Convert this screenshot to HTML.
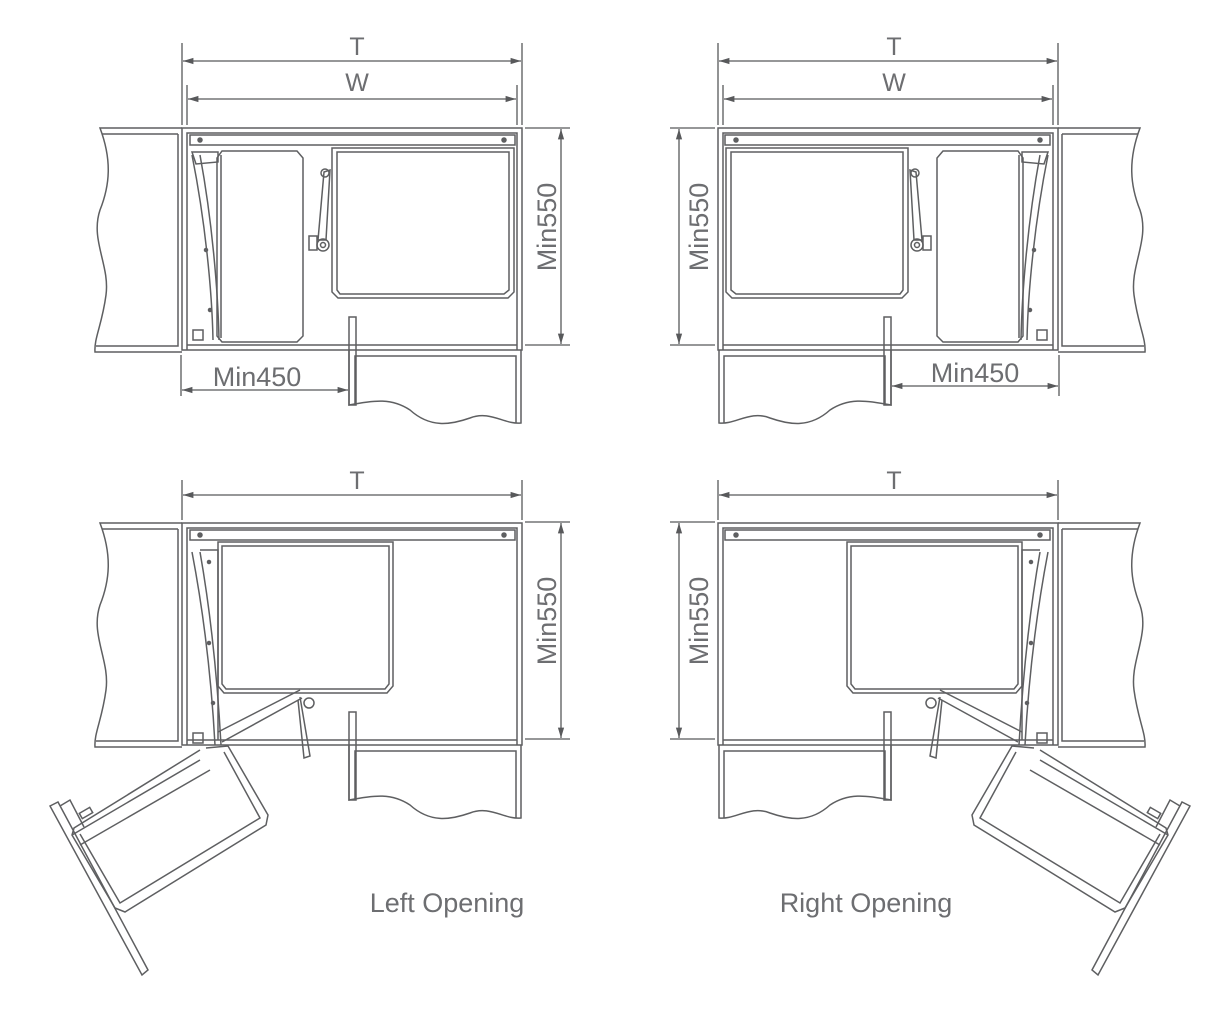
<!DOCTYPE html>
<html><head><meta charset="utf-8"><style>
html,body{margin:0;padding:0;background:#fff;width:1230px;height:1024px;overflow:hidden}
svg{display:block}
text{font-family:"Liberation Sans",sans-serif;fill:#6d6e71}
</style></head><body>
<svg width="1230" height="1024" viewBox="0 0 1230 1024" xmlns="http://www.w3.org/2000/svg">
<defs>
<marker id="ar" viewBox="0 0 10 10" refX="10" refY="5" markerWidth="8" markerHeight="8" orient="auto-start-reverse"><path d="M0,2 L10,5 L0,8z" fill="#58595b"/></marker>
<g id="cab" fill="none" stroke="#5e5f61" stroke-width="1.5">
  <path d="M182,128 L100,128 C112,160 110,185 100,210 C90,240 110,265 106,295 C102,325 94,338 95,352 L182,352"/>
  <path d="M178,134 L178,346 L96,346"/>
  <path d="M102,134 L178,134"/>
  <rect x="182" y="128" width="340" height="222"/>
  <path d="M187,350 L187,133 L517,133 L517,350"/>
  <line x1="187" y1="345" x2="517" y2="345"/>
  <rect x="190" y="135" width="325" height="10"/>
  <circle cx="200" cy="140" r="2" fill="#5e5f61"/><circle cx="504" cy="140" r="2" fill="#5e5f61"/>
  <rect x="349" y="317" width="7" height="88"/>
  <path d="M349,350 L349,405 C375,400 392,398 410,410 C430,428 450,425 470,418 C490,410 505,425 521,423 L521,350"/>
  <path d="M355,405 L355,356 L516,356 L516,423"/>
</g>
<g id="topin" fill="none" stroke="#5e5f61" stroke-width="1.5">
  <path d="M222,151 L297,151 L303,158 L303,336 L297,342 L222,342 L217,336 L217,158 Z"/>
  <path d="M221,155 L221,338"/>
  <path d="M192,155 C205,220 212,290 213,340"/>
  <path d="M200,155 C212,220 218,290 219,340"/>
  <path d="M192,152 L218,152 L218,162 L196,164 Z"/>
  <rect x="193" y="330" width="10" height="10"/>
  <circle cx="206" cy="250" r="1.5" fill="#5e5f61"/><circle cx="210" cy="310" r="1.5" fill="#5e5f61"/>
  <path d="M332,148 L514,148 L514,292 L508,298 L338,298 L332,292 Z"/>
  <path d="M337,152 L509,152 L509,290 L504,294 L340,294 L337,290 Z"/>
  <path d="M324,172 L330,170 L326,240 L318,240 Z"/>
  <circle cx="325" cy="173" r="4"/>
  <circle cx="323" cy="245" r="6"/><circle cx="323" cy="245" r="2.5"/>
  <rect x="309" y="236" width="8" height="14"/>
</g>
<g id="botin" fill="none" stroke="#5e5f61" stroke-width="1.5">
  <path d="M218,542 L393,542 L393,686 L387,693 L224,693 L218,686 Z"/>
  <path d="M222,546 L389,546 L389,684 L385,689 L226,689 L222,684 Z"/>
  <path d="M192,552 C205,620 212,690 215,745"/>
  <path d="M200,552 C212,620 218,690 221,745"/>
  <path d="M200,550 L218,550 L218,740"/>
  <rect x="193" y="733" width="10" height="10"/>
  <circle cx="209" cy="562" r="1.5" fill="#5e5f61"/><circle cx="209" cy="643" r="1.5" fill="#5e5f61"/><circle cx="213" cy="703" r="1.5" fill="#5e5f61"/>
  <path d="M218,732 L300,690"/><path d="M222,742 L302,698"/>
  <path d="M300,697 L310,756 L304,758 L298,700"/>
  <circle cx="309" cy="703" r="5"/>
  <path d="M206,748 L228,746 L268,815 L266,825 L125,912 L115,908 L72,835 L74,828 L200,750"/>
  <path d="M80,834 L120,903 L260,818 L224,752"/>
  <path d="M72,835 L200,760"/><path d="M80,845 L210,770"/>
  <path d="M50,806 L58,802 L148,970 L142,975 Z"/>
  <path d="M60,806 L70,800 L84,827"/>
  <rect x="80" y="810" width="12" height="6" transform="rotate(-30 86 813)"/>
</g>
</defs>

<use href="#cab"/><use href="#topin"/>
<g transform="translate(1240,0) scale(-1,1)"><use href="#cab"/><use href="#topin"/></g>
<g transform="translate(0,395)"><use href="#cab"/></g><use href="#botin"/>
<g transform="translate(1240,0) scale(-1,1)"><g transform="translate(0,395)"><use href="#cab"/></g><use href="#botin"/></g>

<g stroke="#58595b" stroke-width="1.3" fill="none">
  <line x1="182" y1="43" x2="182" y2="125"/><line x1="522" y1="43" x2="522" y2="125"/>
  <line x1="187" y1="85" x2="187" y2="125"/><line x1="517" y1="85" x2="517" y2="125"/>
  <line x1="183" y1="61" x2="521" y2="61" marker-start="url(#ar)" marker-end="url(#ar)"/>
  <line x1="188" y1="99" x2="516" y2="99" marker-start="url(#ar)" marker-end="url(#ar)"/>
  <line x1="525" y1="128" x2="570" y2="128"/><line x1="525" y1="345" x2="570" y2="345"/>
  <line x1="561" y1="129" x2="561" y2="344" marker-start="url(#ar)" marker-end="url(#ar)"/>
  <line x1="181" y1="355" x2="181" y2="396"/>
  <line x1="182" y1="390" x2="348" y2="390" marker-start="url(#ar)" marker-end="url(#ar)"/>
  <line x1="1058" y1="43" x2="1058" y2="125"/><line x1="718" y1="43" x2="718" y2="125"/>
  <line x1="1053" y1="85" x2="1053" y2="125"/><line x1="723" y1="85" x2="723" y2="125"/>
  <line x1="719" y1="61" x2="1057" y2="61" marker-start="url(#ar)" marker-end="url(#ar)"/>
  <line x1="724" y1="99" x2="1052" y2="99" marker-start="url(#ar)" marker-end="url(#ar)"/>
  <line x1="670" y1="128" x2="715" y2="128"/><line x1="670" y1="345" x2="715" y2="345"/>
  <line x1="679" y1="129" x2="679" y2="344" marker-start="url(#ar)" marker-end="url(#ar)"/>
  <line x1="1059" y1="355" x2="1059" y2="396"/>
  <line x1="892" y1="386" x2="1058" y2="386" marker-start="url(#ar)" marker-end="url(#ar)"/>
  <line x1="182" y1="480" x2="182" y2="520"/><line x1="522" y1="480" x2="522" y2="520"/>
  <line x1="183" y1="495" x2="521" y2="495" marker-start="url(#ar)" marker-end="url(#ar)"/>
  <line x1="525" y1="522" x2="570" y2="522"/><line x1="525" y1="739" x2="570" y2="739"/>
  <line x1="561" y1="523" x2="561" y2="738" marker-start="url(#ar)" marker-end="url(#ar)"/>
  <line x1="718" y1="480" x2="718" y2="520"/><line x1="1058" y1="480" x2="1058" y2="520"/>
  <line x1="719" y1="495" x2="1057" y2="495" marker-start="url(#ar)" marker-end="url(#ar)"/>
  <line x1="670" y1="522" x2="715" y2="522"/><line x1="670" y1="739" x2="715" y2="739"/>
  <line x1="679" y1="523" x2="679" y2="738" marker-start="url(#ar)" marker-end="url(#ar)"/>
</g>

<g font-size="25" text-anchor="middle">
  <text x="357" y="55">T</text><text x="357" y="91">W</text>
  <text x="894" y="55">T</text><text x="894" y="91">W</text>
  <text x="357" y="489">T</text><text x="894" y="489">T</text>
</g>
<g font-size="27" text-anchor="middle">
  <text x="257" y="386">Min450</text><text x="975" y="382">Min450</text>
  <text transform="translate(556,227) rotate(-90)">Min550</text>
  <text transform="translate(708,227) rotate(-90)">Min550</text>
  <text transform="translate(556,621) rotate(-90)">Min550</text>
  <text transform="translate(708,621) rotate(-90)">Min550</text>
  <text x="447" y="912">Left Opening</text>
  <text x="866" y="912">Right Opening</text>
</g>
</svg>
</body></html>
